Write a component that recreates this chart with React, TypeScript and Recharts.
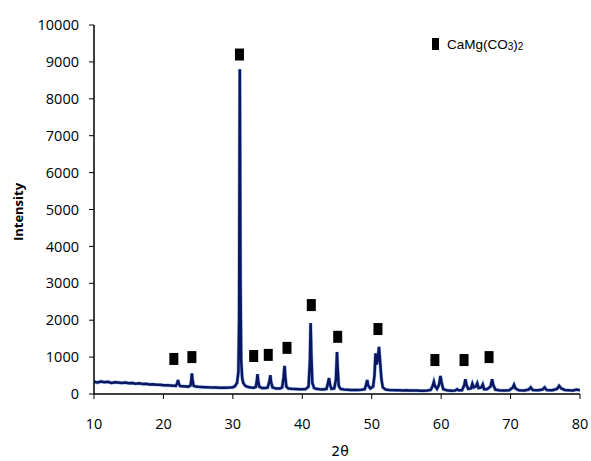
import React from 'react';
import { ComposedChart, Line, Scatter, XAxis, YAxis } from 'recharts';

// XRD pattern points: [2θ, intensity]
const pattern: [number, number][] = [
  [10, 330], [10.5, 310], [11, 340], [11.5, 320], [12, 330], [12.5, 300], [13, 320], [13.5, 310],
  [14, 300], [14.5, 310], [15, 290], [15.5, 300], [16, 280], [16.5, 290], [17, 270], [17.5, 275],
  [18, 260], [18.5, 265], [19, 250], [19.5, 250], [20, 240], [20.5, 235], [21, 230], [21.5, 225],
  [21.8, 220], [22.0, 300], [22.1, 380], [22.2, 290], [22.4, 215], [22.8, 210], [23.2, 205],
  [23.6, 200], [23.9, 230], [24.0, 350], [24.1, 560], [24.2, 380], [24.35, 220], [24.7, 200],
  [25, 195], [25.5, 190], [26, 185], [26.5, 180], [27, 178], [27.5, 175], [28, 172], [28.5, 170],
  [29, 172], [29.5, 175], [30, 185], [30.3, 210], [30.6, 300], [30.8, 600], [30.9, 2000],
  [30.95, 5500], [31.0, 8800], [31.05, 6000], [31.1, 3000], [31.2, 900], [31.35, 420], [31.5, 300],
  [31.8, 220], [32.2, 190], [32.6, 175], [33.0, 170], [33.3, 190], [33.45, 350], [33.55, 540],
  [33.65, 360], [33.8, 200], [34.2, 160], [34.6, 160], [35.0, 170], [35.25, 330], [35.4, 510],
  [35.5, 330], [35.7, 180], [36.2, 150], [36.8, 150], [37.1, 180], [37.3, 450], [37.45, 760],
  [37.55, 480], [37.7, 200], [38, 150], [38.5, 140], [39, 135], [39.5, 130], [40, 130], [40.5, 135],
  [40.9, 200], [41.1, 900], [41.2, 1920], [41.3, 1100], [41.45, 300], [41.7, 160], [42, 140],
  [42.5, 130], [43, 125], [43.5, 140], [43.7, 300], [43.85, 430], [44.0, 250], [44.2, 140],
  [44.6, 150], [44.85, 400], [45.0, 1140], [45.1, 700], [45.25, 220], [45.5, 140], [46, 120],
  [46.5, 115], [47, 110], [47.5, 110], [48, 110], [48.5, 115], [49, 130], [49.2, 260], [49.35, 380],
  [49.5, 230], [49.8, 150], [50.2, 200], [50.4, 500], [50.55, 1100], [50.7, 800], [50.85, 900],
  [51.05, 1280], [51.2, 900], [51.4, 400], [51.6, 180], [52, 120], [52.5, 110], [53, 105],
  [53.5, 100], [54, 100], [54.5, 95], [55, 100], [55.5, 95], [56, 95], [56.5, 95], [57, 90],
  [57.5, 90], [58, 95], [58.5, 110], [58.8, 230], [58.95, 330], [59.1, 220], [59.4, 140],
  [59.7, 250], [59.9, 490], [60.05, 330], [60.3, 130], [60.8, 100], [61.5, 90], [62, 95],
  [62.3, 130], [62.5, 100], [63, 100], [63.3, 220], [63.5, 400], [63.65, 250], [63.9, 140],
  [64.3, 150], [64.5, 280], [64.7, 180], [65.0, 200], [65.2, 290], [65.4, 160], [65.8, 180],
  [66.0, 260], [66.2, 130], [66.6, 130], [67.1, 200], [67.35, 400], [67.5, 250], [67.8, 120],
  [68.3, 100], [69, 95], [69.8, 100], [70.3, 170], [70.5, 250], [70.7, 150], [71.2, 100], [72, 95],
  [72.6, 120], [72.9, 180], [73.2, 110], [74, 100], [74.6, 120], [74.9, 180], [75.2, 110],
  [76, 100], [76.7, 140], [77.0, 220], [77.3, 150], [77.8, 110], [78.5, 100], [79, 95],
  [79.5, 120], [80, 100],
];

// Dolomite (CaMg(CO3)2) reflection markers: [2θ, marker height]
const markers: [number, number][] = [
  [21.5, 950], [24.1, 1000], [30.95, 9200], [33.0, 1030], [35.1, 1060], [37.8, 1250],
  [41.3, 2410], [45.1, 1550], [50.9, 1760], [59.1, 920], [63.3, 920], [66.9, 1000],
];

const xTicks = [10, 20, 30, 40, 50, 60, 70, 80];
const yTicks = [0, 1000, 2000, 3000, 4000, 5000, 6000, 7000, 8000, 9000, 10000];

const lineData = pattern.map(([x, y]) => ({ x, y }));
const markerData = markers.map(([x, y]) => ({ x, y }));

const FONT = '"Open Sans", "Noto Sans", sans-serif';

const SquareMarker = (props: any) => {
  const { cx, cy } = props;
  if (cx == null || cy == null) return null;
  return <rect x={cx - 4.5} y={cy - 6} width={9} height={12} fill="#000" />;
};

export default function App() {
  return (
    <div style={{ position: 'absolute', left: 0, top: 0, width: 591, height: 461, background: '#fff' }}>
      <ComposedChart width={591} height={461} margin={{ top: 25, right: 11, left: 0, bottom: 0 }}>
        <XAxis
          type="number"
          dataKey="x"
          domain={[10, 80]}
          ticks={xTicks}
          allowDataOverflow
          height={67}
          axisLine={{ stroke: '#000', strokeWidth: 1.5 }}
          tickLine={{ stroke: '#000', strokeWidth: 1 }}
          tickSize={5}
          tickMargin={20}
          tick={{ fill: '#000', fontSize: 14.5, fontFamily: FONT }}
          label={(p: any) => (
            <text x={340} y={456} textAnchor="middle" fontFamily='"DejaVu Sans", sans-serif' fontSize={14} fill="#000">
              2θ
            </text>
          )}
        />
        <YAxis
          type="number"
          domain={[0, 10000]}
          ticks={yTicks}
          width={94}
          axisLine={{ stroke: '#000', strokeWidth: 1.5 }}
          tickLine={{ stroke: '#000', strokeWidth: 1 }}
          tickSize={5}
          tickMargin={10}
          tick={{ fill: '#000', fontSize: 14.5, fontFamily: FONT }}
          label={(p: any) => (
            <text
              x={18}
              y={212}
              transform="rotate(-90 18 212)"
              textAnchor="middle"
              dominantBaseline="central"
              fontFamily={FONT}
              fontWeight="bold"
              fontSize={13}
              fill="#000"
            >
              Intensity
            </text>
          )}
        />
        <Line
          data={lineData}
          dataKey="y"
          type="linear"
          stroke="#4a8fe0"
          strokeOpacity={0.6}
          strokeWidth={3.6}
          dot={false}
          isAnimationActive={false}
          legendType="none"
        />
        <Line
          data={lineData}
          dataKey="y"
          type="linear"
          stroke="#0c1560"
          strokeWidth={2.5}
          dot={false}
          isAnimationActive={false}
          legendType="none"
        />
        <Scatter data={markerData} dataKey="y" shape={SquareMarker} isAnimationActive={false} />
      </ComposedChart>
      <div style={{ position: 'absolute', left: 430, top: 30, width: 120, height: 24 }}>
        <svg width={120} height={24}>
          <rect x={2} y={8} width={7} height={12} fill="#000" />
          <text x={17} y={19} fontFamily='"Liberation Sans", Arial, sans-serif' fontSize={13.5} fill="#000">
            CaMg(CO<tspan fontSize={10} dy={1}>3</tspan><tspan dy={-1}>)</tspan><tspan fontSize={10} dy={1}>2</tspan>
          </text>
        </svg>
      </div>
    </div>
  );
}
